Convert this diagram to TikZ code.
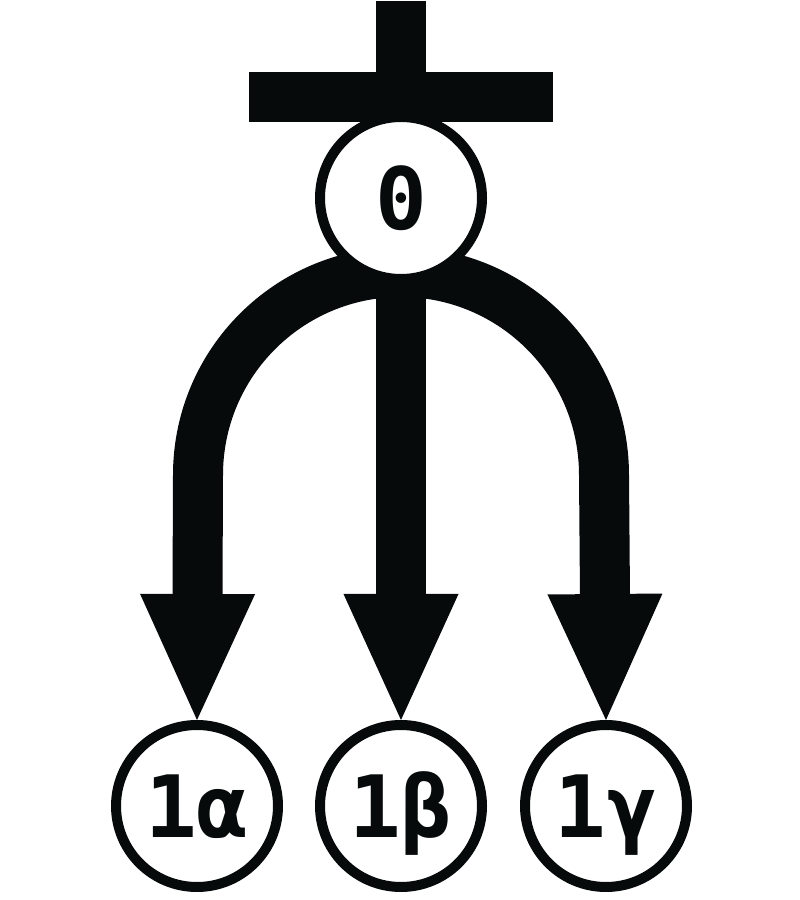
\documentclass[tikz,border=0pt]{standalone}
\usepackage{fontspec}
\usetikzlibrary{arrows.meta,backgrounds}
\newfontfamily\monofont{DejaVu Sans Mono}
\definecolor{ink}{RGB}{6,10,11}
\tikzset{
    CC1/.style ={circle,minimum size = 162pt, inner sep = 0pt, line width = 10pt, draw = ink, fill = white,
        text = ink, text height = 63pt, text depth = 0pt, font = {\monofont\bfseries\fontsize{86}{100}\selectfont}},
    AR1/.style ={line width = 50pt, draw = ink, -{Triangle[width = 115pt, length = 126pt, line width = 0pt, fill = ink]}},
    BA1/.style ={line width = 50pt, draw = ink}}

\begin{document}
\begin{tikzpicture}[x=1pt,y=1pt]
        \useasboundingbox (0,0) rectangle (800,900);
        \node[CC1] (root) at (401,702) {0};
        \foreach \n/\x/\t in {al/197/1α,be/401/1β,ga/606/1γ}{
            \node[CC1] (\n) at (\x,94) {\t};}
        \coordinate (hub) at (401,628);
        \begin{scope}[on background layer]
            \draw[AR1] (hub) arc[start angle = 90, end angle = 180, radius = 203] -- (al.north);
            \draw[AR1] (root.south) -- (be.north);
            \draw[AR1] (hub) arc[start angle = 90, end angle = 0, radius = 203] -- (ga.north);
        \end{scope}
        \draw[BA1] (249,803) -- (553,803);
        \draw[BA1] (401,899) -- (401,803);
\end{tikzpicture}
\end{document}
